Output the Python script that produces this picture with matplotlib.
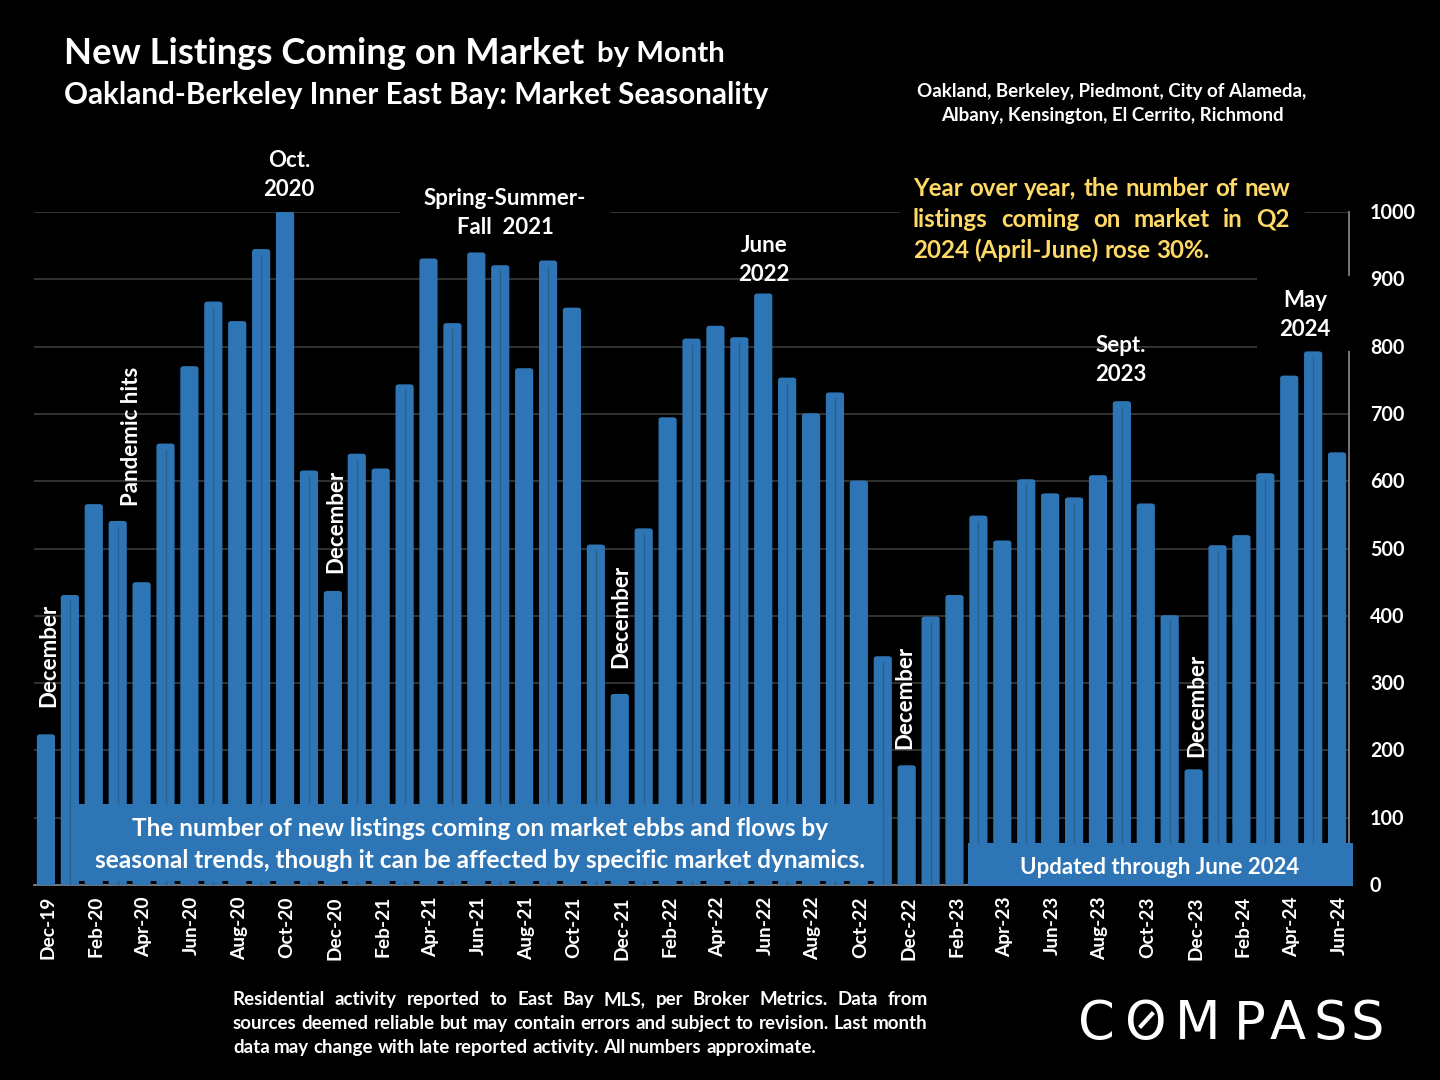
import matplotlib
matplotlib.use("Agg")
import matplotlib.pyplot as plt
from matplotlib.patches import FancyBboxPatch, Rectangle
from matplotlib.lines import Line2D
from matplotlib.transforms import ScaledTranslation

plt.rcParams['font.family'] = ['Lato', 'DejaVu Sans']
plt.rcParams['font.weight'] = 'bold'

# monthly values, Dec-19 to Jun-24
months = ["Dec-19", "Jan-20", "Feb-20", "Mar-20", "Apr-20", "May-20", "Jun-20", "Jul-20", "Aug-20", "Sep-20", "Oct-20",
          "Nov-20", "Dec-20", "Jan-21", "Feb-21", "Mar-21", "Apr-21", "May-21", "Jun-21", "Jul-21", "Aug-21", "Sep-21",
          "Oct-21", "Nov-21", "Dec-21", "Jan-22", "Feb-22", "Mar-22", "Apr-22", "May-22", "Jun-22", "Jul-22", "Aug-22",
          "Sep-22", "Oct-22", "Nov-22", "Dec-22", "Jan-23", "Feb-23", "Mar-23", "Apr-23", "May-23", "Jun-23", "Jul-23",
          "Aug-23", "Sep-23", "Oct-23", "Nov-23", "Dec-23", "Jan-24", "Feb-24", "Mar-24", "Apr-24", "May-24", "Jun-24"]
listings = [223, 430, 565, 540, 449, 655, 770, 866, 837, 944, 1000,
            615, 436, 640, 618, 743, 930, 834, 939, 920, 767, 927,
            857, 505, 283, 529, 694, 811, 830, 813, 878, 753, 700,
            731, 600, 339, 177, 398, 430, 548, 511, 602, 581, 575,
            608, 718, 566, 400, 171, 504, 519, 611, 756, 792, 642]
y_ticks = [0, 100, 200, 300, 400, 500, 600, 700, 800, 900, 1000]

BLUE = "#2E75B6"
W, H = 1440, 1080

fig = plt.figure(figsize=(14.4, 10.8), dpi=100, facecolor="black")
ax = fig.add_axes([34 / W, 1 - 885 / H, (1349 - 34) / W, (885 - 212) / H], facecolor="black")

# overlay axes in pixel coordinates for the slide-style text and boxes
ov = fig.add_axes([0, 0, 1, 1], facecolor="none")
ov.set_xlim(0, W)
ov.set_ylim(H, 0)
ov.axis("off")

bars = ax.bar(range(len(listings)), listings, width=0.76, color=BLUE, zorder=3)
# swap the bars for rounded-top ones
for i, b in enumerate(bars):
    b.set_visible(False)
    ax.add_patch(FancyBboxPatch((b.get_x() + 0.14, -20), b.get_width() - 0.28, b.get_height() + 20 - 3,
                                boxstyle="round,pad=0.14,rounding_size=0.14", mutation_aspect=28,
                                fc=BLUE, ec="none", zorder=3))
    if i % 2 == 1:
        ax.plot([i, i], [0, b.get_height() - 8], color="#27608f", lw=1.0, zorder=4)

ax.set_xlim(-0.5, len(listings) - 0.5)
ax.set_ylim(0, 1000)
ax.set_yticks(y_ticks)
ax.set_yticklabels([])
ax.yaxis.grid(True, color="#3b3b3b", lw=1.2)
ax.set_axisbelow(True)
ax.set_xticks(range(0, len(months), 2))
ax.set_xticklabels(months[::2], rotation=90, color="white", fontsize=13.8, ha="center", va="top")
ax.tick_params(axis="both", length=0)
ax.tick_params(axis="x", pad=8)
shift = ScaledTranslation(2 / 100, 0, fig.dpi_scale_trans)
for lab in ax.get_xticklabels():
    lab.set_transform(lab.get_transform() + shift)
for s in ["top", "left"]:
    ax.spines[s].set_visible(False)
ax.spines["right"].set_color("#808080")
ax.spines["right"].set_linewidth(1.3)
ax.spines["bottom"].set_color("#808080")
ax.spines["bottom"].set_linewidth(1.3)

# y tick labels sit left aligned to the right of the axis
for v in y_ticks:
    ov.text(1370, 884 - v * 0.673, str(v), color="white", fontsize=14.2, ha="left", va="center_baseline")

# black patches that cut the gridlines behind the notes
for x0, y0, x1, y1 in [(400, 190, 610, 240), (900, 170, 1305, 265), (1257, 276, 1362, 351), (1090, 330, 1150, 345)]:
    ov.add_patch(Rectangle((x0, y0), x1 - x0, y1 - y0, fc="black", ec="none", zorder=1))

# titles
ov.text(64, 53, "New Listings Coming on Market", color="white", fontsize=26.3, va="center", zorder=5)
ov.text(597, 54, "by Month", color="white", fontsize=21.2, va="center", zorder=5)
ov.text(64, 95, "Oakland-Berkeley Inner East Bay: Market Seasonality", color="white", fontsize=21.3, va="center", zorder=5)
ov.text(1112, 91, "Oakland, Berkeley, Piedmont, City of Alameda,", color="white", fontsize=13.5, ha="center", va="center", zorder=5)
ov.text(1112, 115, "Albany, Kensington, El Cerrito, Richmond", color="white", fontsize=13.5, ha="center", va="center", zorder=5)


def justified(lines, x0, x1, ys, size, color):
    # put words one by one so each line fills the width, last line stays left
    rend = fig.canvas.get_renderer()
    for n, (line, y) in enumerate(zip(lines, ys)):
        words = line.split()
        items = [ov.text(0, y, w, color=color, fontsize=size, va="baseline", zorder=6) for w in words]
        widths = [t.get_window_extent(rend).width for t in items]
        if n == len(lines) - 1:
            gap = size * 0.32
        else:
            gap = (x1 - x0 - sum(widths)) / (len(words) - 1)
        x = x0
        for t, w in zip(items, widths):
            t.set_x(x)
            x += w + gap


justified(["Year over year, the number of new", "listings coming on market in Q2", "2024 (April-June) rose 30%."],
          913, 1290, [196, 227, 258], 17.4, "#FFD966")
justified(["Residential activity reported to East Bay MLS, per Broker Metrics. Data from",
           "sources deemed reliable but may contain errors and subject to revision. Last month",
           "data may change with late reported activity. All numbers approximate."],
          233, 928, [1005, 1029, 1053], 13.5, "white")

# notes above the peaks
notes = [("Oct.\n2020", 289, 175), ("Spring-Summer-\nFall  2021", 505, 213), ("June\n2022", 764, 260),
         ("Sept.\n2023", 1121, 360), ("May\n2024", 1305, 315)]
for txt, x, y in notes:
    ov.text(x, y, txt, color="white", fontsize=16, ha="center", va="center", linespacing=1.45, zorder=6)

side_notes = [("December", 49, 655), ("Pandemic hits", 131, 436), ("December", 336, 521), ("December", 621, 616),
              ("December", 905, 697), ("December", 1197, 705)]
for txt, x, y in side_notes:
    ov.text(x, y, txt, color="white", fontsize=16, rotation=90, ha="center", va="center", zorder=6)

# blue call-out boxes
ov.add_patch(Rectangle((71, 804), 812, 77, fc=BLUE, ec="none", zorder=5))
ov.text(480, 828, "The number of new listings coming on market ebbs and flows by", color="white", fontsize=17.6,
        ha="center", va="center", zorder=6)
ov.text(480, 860, "seasonal trends, though it can be affected by specific market dynamics.", color="white", fontsize=17.6,
        ha="center", va="center", zorder=6)
ov.add_patch(Rectangle((968, 843), 385, 43, fc=BLUE, ec="none", zorder=5))
ov.text(1160, 867, "Updated through June 2024", color="white", fontsize=16, ha="center", va="center", zorder=6)

# COMPASS logo, letter by letter
for ch, x in zip("COMPASS", [1096, 1146, 1198, 1250, 1288, 1330, 1367]):
    ov.text(x, 1039, ch, color="white", fontsize=38, fontweight="normal", family="DejaVu Sans",
            ha="center", va="baseline", zorder=6)
ov.add_line(Line2D([1141, 1152], [1026, 1014], color="white", lw=3, zorder=6))

fig.savefig("out.png", dpi=100, facecolor="black")
